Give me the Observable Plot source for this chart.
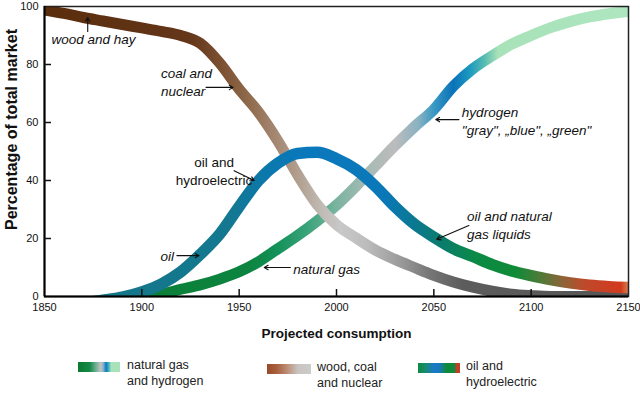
<!DOCTYPE html>
<html><head><meta charset="utf-8">
<script src="https://cdn.jsdelivr.net/npm/d3@7"></script>
<script src="https://cdn.jsdelivr.net/npm/@observablehq/plot@0.6"></script>
<style>
body{margin:0;background:#fff;font-family:"Liberation Sans",Arial,sans-serif;position:relative;width:640px;height:395px;overflow:hidden;}
#chart svg{display:block;}
.sw{position:absolute;height:10px;}
.lt{position:absolute;font-size:12.5px;line-height:16px;color:#222;}
</style></head><body>
<div id="chart"></div>
<div id="legend"></div>
<script>
// ---- data ----
const yearsA = [1850,1860,1870,1880,1890,1900,1910,1920,1930,1940,1950,1960,1970,1980,1990,2000,2010,2020,2030,2040,2050,2060,2070,2080,2090,2100,2110,2150];
const valuesA = [98.8,97.6,96.2,95.0,93.8,92.6,91.4,90.0,87.3,80.5,71.5,63.5,53.5,42,31.8,24.8,20.2,16,12.8,10,7.3,5,3.2,1.8,0.8,0.3,0,0];
const yearsB = [1870,1880,1890,1900,1910,1920,1930,1940,1950,1960,1970,1980,1990,2000,2010,2020,2030,2040,2050,2060,2070,2080,2090,2100,2110,2120,2130,2140,2150];
const valuesB = [-2.2,-1.3,-0.2,1.6,4.3,8.5,14.5,21.5,31,40,46,49.3,49.7,47.5,43.8,38,31,25,20.5,16.5,13.8,11,8.8,7.2,5.8,4.7,3.9,3.4,3.1];
const yearsC = [1895,1903,1910,1920,1930,1940,1950,1960,1970,1980,1990,2000,2010,2020,2030,2040,2050,2060,2070,2080,2090,2100,2110,2120,2130,2140,2150];
const valuesC = [-2,-1,0.7,2.5,4,6,8.5,12,16.5,21,26,31.5,38,45,52,58.5,64.5,72.5,78.5,83,87,90,92.7,94.8,96.4,97.5,98.3];

const xTickLabels = [1850,1900,1950,2000,2050,2100,2150];
const xInnerTicks = [1900,1950,2000,2050,2100];
const yTickLabels = [0,20,40,60,80,100];
const yInnerTicks = [20,40,60,80];

const legendLabels = [["natural gas","and hydrogen"],["wood, coal","and nuclear"],["oil and","hydroelectric"]];

const notes = [
  {x:1853.6, y:89,   text:"wood and hay", anchor:"start", italic:true},
  {x:1909.8, y:74.1, text:"coal and\nnuclear", anchor:"start", italic:true},
  {x:1937.1, y:43.4, text:"oil and\nhydroelectric", anchor:"middle", italic:false},
  {x:1916.5, y:14.1, text:"oil", anchor:"end", italic:true},
  {x:1977.8, y:9.7,  text:"natural gas", anchor:"start", italic:true},
  {x:2064.4, y:60.7, text:"hydrogen\n\"gray\", „blue\", „green\"", anchor:"start", italic:true},
  {x:2067,   y:24.8, text:"oil and natural\ngas liquids", anchor:"start", italic:true}
];
const arrows = [
  {x1:1872.2, y1:91.4, x2:1872.2, y2:96.2},
  {x1:1933,   y1:72.1, x2:1946.9, y2:72.1},
  {x1:1947.4, y1:43.4, x2:1957.7, y2:40},
  {x1:1918,   y1:14.1, x2:1929.4, y2:14.1},
  {x1:1976.3, y1:10,   x2:1962.9, y2:10},
  {x1:2062.9, y1:61,   x2:2051,   y2:61},
  {x1:2068,   y1:24.5, x2:2051.5, y2:19.7}
];

// gradient colour stops along the year axis
const stopsA = [[1850,"#5a2d0c"],[1925,"#64361a"],[1940,"#7a4f30"],[1955,"#8f6a4c"],[1968,"#a48670"],[1980,"#b19e8e"],[1992,"#c0bab4"],[2002,"#c8c8c8"],[2015,"#bdbdbd"],[2032,"#9c9c9c"],[2048,"#767676"],[2065,"#5c5c5c"],[2150,"#555555"]];
const stopsB = [[1850,"#157585"],[1945,"#137890"],[1965,"#0b78ae"],[1985,"#0a78bc"],[2025,"#0a78b8"],[2040,"#0b7890"],[2055,"#0a7d6a"],[2072,"#0b8a45"],[2092,"#0f8a36"],[2104,"#4a7c38"],[2116,"#8c6438"],[2128,"#c0482a"],[2146,"#d23a1e"],[2150,"#d88050"]];
const stopsC = [[1850,"#0b7a2e"],[1955,"#0c8440"],[1970,"#14925a"],[1985,"#3aa37a"],[2000,"#7ab4a0"],[2015,"#a6bab4"],[2030,"#bcbcbc"],[2042,"#8ab2c2"],[2050,"#3a98c4"],[2060,"#0a72b8"],[2068,"#1a98c0"],[2076,"#58bcb0"],[2083,"#a8e2b8"],[2150,"#aee6c0"]];

const rows = (ys, vs) => ys.map((y, i) => ({year: y, value: vs[i]}));
const dataA = rows(yearsA, valuesA), dataB = rows(yearsB, valuesB), dataC = rows(yearsC, valuesC);

const noteMark = (anchor, italic) => Plot.text(notes.filter(d => d.anchor === anchor && d.italic === italic),
  {x:"x", y:"y", text:"text", textAnchor: anchor, fontStyle: italic ? "italic" : "normal", fontSize:13.5, lineHeight:1.3, fill:"#111"});

const plot = Plot.plot({
  width: 640, height: 345,
  marginLeft: 44, marginRight: 12, marginTop: 6, marginBottom: 49,
  style: {fontFamily: "'Liberation Sans', Arial, sans-serif", fontSize: "11px", color: "#111", background: "#fff"},
  x: {domain: [1850, 2150]},
  y: {domain: [0, 100]},
  marks: [
    Plot.line(dataC, {x:"year", y:"value", stroke:"url(#gC)", strokeWidth:11, curve:"monotone-x", clip:true}),
    Plot.line(dataA, {x:"year", y:"value", stroke:"url(#gA)", strokeWidth:11, curve:"monotone-x", clip:true}),
    Plot.line(dataB, {x:"year", y:"value", stroke:"url(#gB)", strokeWidth:11.5, curve:"monotone-x", clip:true}),
    Plot.frame({stroke:"#222", strokeWidth:1.5}),
    Plot.ruleX([1850], {stroke:"#000", strokeWidth:2}),
    Plot.ruleY([0], {stroke:"#000", strokeWidth:2}),
    Plot.axisX({ticks: xTickLabels, tickSize: 0, tickPadding: 7, tickFormat: d => String(d), label: null, fontSize: 11}),
    Plot.axisX({ticks: xInnerTicks, tickSize: 7, dy: -7, tickFormat: () => "", label: null, strokeWidth: 1.5}),
    Plot.axisY({ticks: yTickLabels, tickSize: 0, tickPadding: 6, label: null, fontSize: 11}),
    Plot.axisY({ticks: yInnerTicks, tickSize: 7, dx: 7, tickFormat: () => "", label: null, strokeWidth: 1.5}),
    Plot.text(["Percentage of total market"], {frameAnchor:"left", text: d => d, rotate:-90, dx:-33, dy:-22, textAnchor:"middle", lineAnchor:"middle", fontSize:16, fontWeight:"bold", fill:"#111"}),
    Plot.text(["Projected consumption"], {frameAnchor:"bottom", text: d => d, dy:37, textAnchor:"middle", lineAnchor:"middle", fontSize:13.5, fontWeight:"bold", fill:"#111"}),
    Plot.arrow(arrows, {x1:"x1", y1:"y1", x2:"x2", y2:"y2", stroke:"#111", strokeWidth:1.1, headLength:6}),
    noteMark("start", true),
    noteMark("end", true),
    noteMark("middle", false)
  ]
});

// gradients defined from the plot's own x scale
const xs = plot.scale("x");
const svg = d3.select(plot);
const defs = svg.insert("defs", ":first-child");
[["gA", stopsA], ["gB", stopsB], ["gC", stopsC]].forEach(([id, stops]) => {
  const g = defs.append("linearGradient").attr("id", id).attr("gradientUnits", "userSpaceOnUse")
    .attr("x1", xs.apply(1850)).attr("x2", xs.apply(2150)).attr("y1", 0).attr("y2", 0);
  stops.forEach(([yr, c]) => g.append("stop").attr("offset", (yr - 1850) / 300).attr("stop-color", c));
});
document.getElementById("chart").appendChild(plot);

// legend (HTML, below the SVG)
const legendSwatches = [
  "linear-gradient(to right,#0b7a30 0%,#168a48 28%,#6aae8e 42%,#c2c2c2 54%,#8ab4c8 60%,#0a78c0 67%,#40b0c4 73%,#a8e2b8 79%,#a8e2b8 100%)",
  "linear-gradient(to right,#9a4a28 0%,#a8603e 22%,#bc8c74 45%,#c8c4c0 70%,#cccccc 100%)",
  "linear-gradient(to right,#0e8a3a 0%,#1a8a74 18%,#1a7ac8 38%,#1a78b8 52%,#0e8a3a 68%,#0e8a3a 86%,#b8442a 92%,#cc3a20 100%)"
];
const legendPos = [[78, 42, 362, 127], [267, 44, 364, 317], [418, 42, 363, 466]];
const leg = document.getElementById("legend");
legendLabels.forEach((lines, i) => {
  const [sx, sw, sy, tx] = legendPos[i];
  const s = document.createElement("div");
  s.className = "sw"; s.style.left = sx + "px"; s.style.top = sy + "px"; s.style.width = sw + "px"; s.style.background = legendSwatches[i];
  leg.appendChild(s);
  const t = document.createElement("div");
  t.className = "lt"; t.style.left = tx + "px"; t.style.top = (sy - 5) + "px";
  t.innerHTML = lines.join("<br>");
  leg.appendChild(t);
});
</script>
</body></html>
